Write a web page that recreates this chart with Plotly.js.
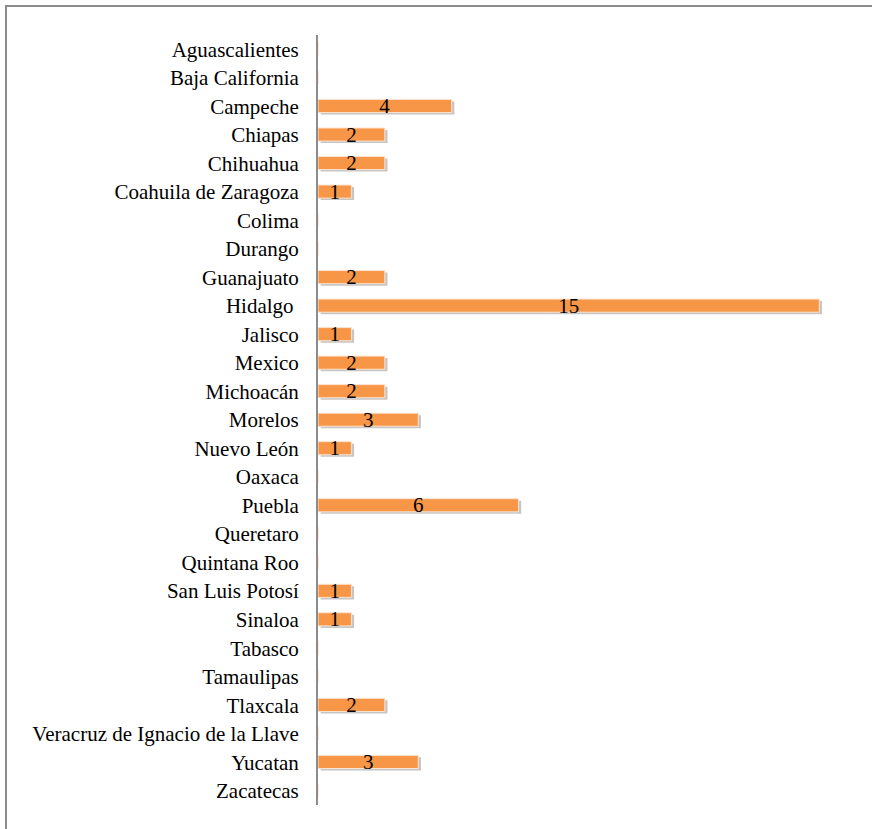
<!DOCTYPE html>
<html>
<head>
<meta charset="utf-8">
<script src="https://cdn.plot.ly/plotly-3.0.1.min.js"></script>
<style>
html,body{margin:0;padding:0;background:#fff;}
#frame{position:absolute;left:5px;top:5px;width:900px;height:900px;border-left:2px solid #8c8c8c;border-top:2px solid #8c8c8c;box-sizing:border-box;pointer-events:none;z-index:2;}
#chart{position:absolute;left:0;top:0;width:872px;height:829px;}
</style>
</head>
<body>
<div id="chart"></div>
<div id="frame"></div>
<script>
const states = ["Aguascalientes","Baja California","Campeche","Chiapas","Chihuahua","Coahuila de Zaragoza","Colima","Durango","Guanajuato","Hidalgo ","Jalisco","Mexico","Michoacán","Morelos","Nuevo León","Oaxaca","Puebla","Queretaro","Quintana Roo","San Luis Potosí","Sinaloa","Tabasco","Tamaulipas","Tlaxcala","Veracruz de Ignacio de la Llave","Yucatan","Zacatecas"];
const counts = [0,0,4,2,2,1,0,0,2,15,1,2,2,3,1,0,6,0,0,1,1,0,0,2,0,3,0];

const labels = counts.map(v => v > 0 ? String(v) : "");
const serif = "Liberation Serif, Times New Roman, serif";

const shadow = {
  type: "bar", orientation: "h",
  x: counts, y: states, base: 0.08, offset: -0.17, width: 0.46,
  marker: {color: "rgba(110,110,110,0.4)", line: {width: 0}},
  hoverinfo: "skip", showlegend: false
};
const bars = {
  type: "bar", orientation: "h",
  x: counts, y: states, offset: -0.24, width: 0.46,
  marker: {color: "#F79646", line: {color: "#fde3cf", width: 1}},
  text: labels, textposition: "inside", insidetextanchor: "middle",
  textfont: {family: serif, size: 21, color: "#000"},
  textangle: 0, constraintext: "none",
  showlegend: false
};

const layout = {
  width: 872, height: 829,
  margin: {l: 318, r: 36, t: 35, b: 24},
  paper_bgcolor: "#fff", plot_bgcolor: "#fff",
  barmode: "overlay",
  font: {family: serif, size: 21, color: "#000"},
  xaxis: {range: [0, 15.5], showgrid: false, zeroline: false, showticklabels: false, ticks: "", showline: false, fixedrange: true},
  yaxis: {type: "category", autorange: "reversed", showgrid: false, zeroline: false, ticks: "",
          showline: true, linecolor: "#8c8c8c", linewidth: 2, ticklabelstandoff: 13,
          tickfont: {family: serif, size: 21, color: "#000"}},
  showlegend: false
};

Plotly.newPlot("chart", [shadow, bars], layout, {displayModeBar: false, staticPlot: true});
</script>
</body>
</html>
